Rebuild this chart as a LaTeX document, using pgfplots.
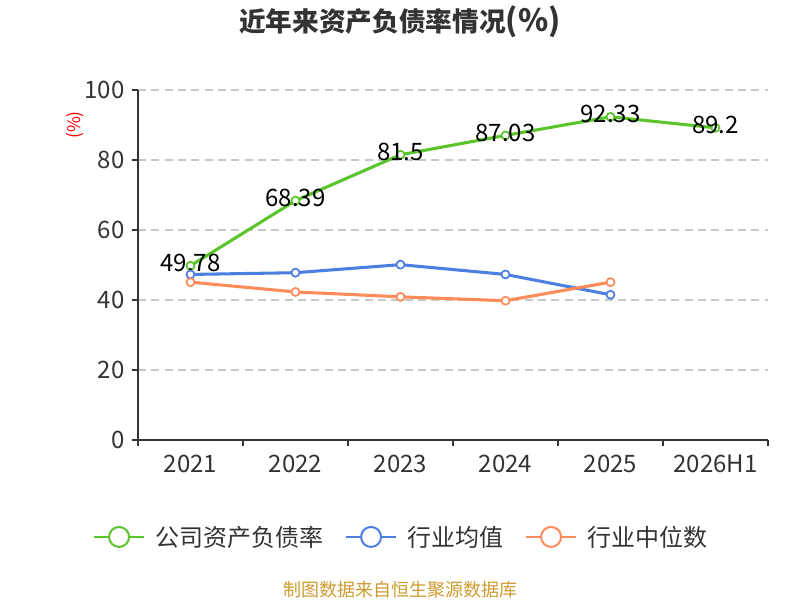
\documentclass[border=0pt]{standalone}
\usepackage{fontspec}
\setmainfont{Noto Sans CJK SC}
\usepackage{pgfplots}
\pgfplotsset{compat=1.18}
\definecolor{cgreen}{HTML}{5AC42B}
\definecolor{cblue}{HTML}{4C7FE1}
\definecolor{corange}{HTML}{FF8B5A}
\definecolor{ctext}{HTML}{333333}
\definecolor{cgrid}{HTML}{C8C8C8}
\definecolor{cfoot}{HTML}{CC9A2E}
\begin{document}
\begin{tikzpicture}[x=0.75pt,y=0.75pt]
\useasboundingbox (0,0) rectangle (800,600);
\node[font=\bfseries\fontsize{20}{22}\selectfont, text=ctext] at (400,578) {近年来资产负债率情况\fontsize{23}{22}\selectfont(\%)};
\node[rotate=90, text=red, font=\fontsize{13}{14}\selectfont] at (75,475) {(\%)};
\node[text=cfoot, font=\fontsize{13.5}{16}\selectfont] at (400,10) {制图数据来自恒生聚源数据库};
\begin{axis}[
  at={(103.5pt,120pt)}, anchor=south west,
  scale only axis, width=472.5pt, height=262.5pt,
  xmin=-0.5, xmax=5.5, ymin=0, ymax=100,
  axis x line*=bottom, axis y line*=left,
  axis line style={-, draw=ctext, line width=1.1pt},
  xtick={-0.5,0.5,1.5,2.5,3.5,4.5,5.5},
  x tick label as interval,
  xticklabels={2021,2022,2023,2024,2025,2026H1},
  ytick={0,20,40,60,80,100},
  tick align=outside, major tick length=4.5pt,
  tick style={draw=ctext, line width=1.1pt},
  ymajorgrids, grid style={cgrid, dash pattern=on 6pt off 4pt, line width=0.8pt},
  tick label style={font=\fontsize{18}{20}\selectfont, text=ctext},
  xticklabel style={yshift=-3.5pt},
  yticklabel style={xshift=-2pt},
  /pgf/number format/assume math mode=true,
  point meta=explicit symbolic,
  legend columns=3,
  legend style={draw=none, fill=none, at={(0.416,-0.277)}, anchor=center,
    font=\fontsize{18}{21}\selectfont, text=ctext,
    cells={anchor=west}, nodes={inner xsep=0pt},
    /tikz/every even column/.append style={column sep=16.5pt},
    /tikz/every odd column/.append style={column sep=7.5pt}},
  legend image code/.code={
    \draw[mark=none, line width=1.5pt] (0pt,0pt) -- (37.5pt,0pt);
    \draw[mark=none, fill=white, line width=1.5pt] (18.75pt,0pt) circle (7.5pt);
  },
]
\addplot[cgreen, line width=2.3pt, mark=*, mark size=3pt,
  mark options={fill=white, draw=cgreen, line width=1.3pt},
  nodes near coords, nodes near coords align=center,
  every node near coord/.append style={text=black, font=\fontsize{18}{21}\selectfont, anchor=center, yshift=2pt, inner sep=0pt}]
  coordinates {(0,49.78)[49.78] (1,68.39)[68.39] (2,81.5)[81.5] (3,87.03)[87.03] (4,92.33)[92.33] (5,89.2)[89.2]};
\addlegendentry{公司资产负债率}
\addplot[cblue, line width=2.3pt, mark=*, mark size=3pt,
  mark options={fill=white, draw=cblue, line width=1.3pt}]
  coordinates {(0,47.3) (1,47.8) (2,50.1) (3,47.3) (4,41.5)};
\addlegendentry{行业均值}
\addplot[corange, line width=2.3pt, mark=*, mark size=3pt,
  mark options={fill=white, draw=corange, line width=1.3pt}]
  coordinates {(0,45.1) (1,42.3) (2,40.9) (3,39.8) (4,45.1)};
\addlegendentry{行业中位数}
\end{axis}
\end{tikzpicture}
\end{document}
